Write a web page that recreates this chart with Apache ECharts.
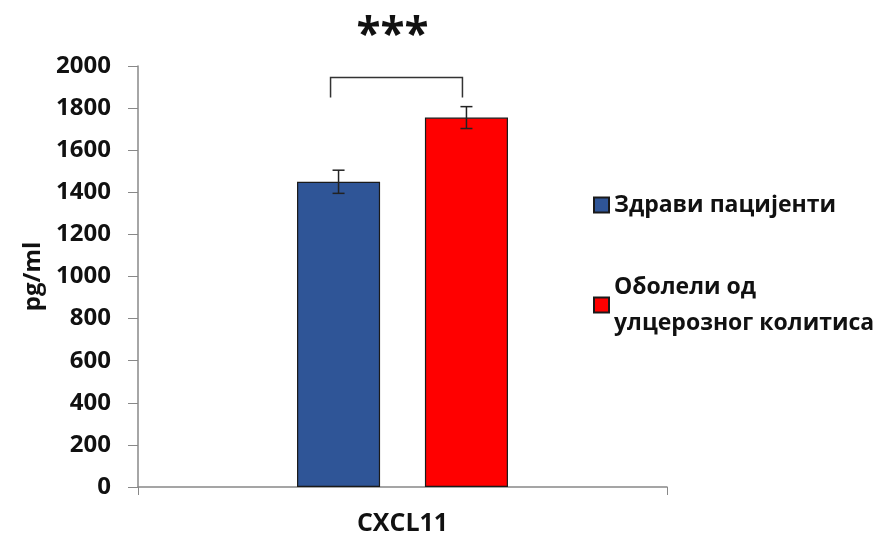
<!DOCTYPE html>
<html lang="sr">
<head>
<meta charset="UTF-8">
<script src="https://cdn.jsdelivr.net/npm/echarts@6/dist/echarts.min.js"></script>
<title>CXCL11</title>
<style>body{margin:0;background:#fff;}</style>
</head>
<body>
<div id="main" style="width:892px;height:540px;"></div>
<script type="text/javascript">
// data
var categories = ['CXCL11'];
var seriesNames = ['Здрави пацијенти', 'Оболели од\nулцерозног колитиса'];
var means = [1450, 1755];
var errors = [55, 52];
var yTicks = [0, 2000, 200]; // min, max, interval
var bracketTop = 1945, bracketLeg = 1850, starsAt = 2140;
var starsText = '***';

var fontFam = '"Open Sans", "Noto Sans", sans-serif';
var colors = ['#2F5597', '#FF0000'];
var barW = 0.157, gapRatio = 0.54;

function offsetFor(idx, band) {
    var w = band * barW;
    return (idx - 0.5) * (w + w * gapRatio);
}

var myChart = echarts.init(document.getElementById('main'));

var errData = [];
for (var i = 0; i < means.length; i++) {
    errData.push([0, means[i] - errors[i], means[i] + errors[i], i]);
}

var option = {
    animation: false,
    textStyle: { fontFamily: fontFam },
    grid: { left: 138, right: 225, top: 66, bottom: 53 },
    legend: {
        orient: 'vertical',
        left: 588,
        top: 182,
        itemWidth: 15,
        itemHeight: 15,
        itemGap: 46,
        icon: 'rect',
        textStyle: { fontSize: 23, fontWeight: 'bold', color: '#111', lineHeight: 36, fontFamily: fontFam },
        data: seriesNames
    },
    xAxis: {
        type: 'category',
        data: categories,
        axisLine: { lineStyle: { color: '#888', width: 1.5 } },
        axisTick: { show: true, length: 8, lineStyle: { color: '#888' } },
        axisLabel: { margin: 24, fontSize: 25, fontWeight: 'bold', color: '#111' }
    },
    yAxis: {
        type: 'value',
        min: yTicks[0], max: yTicks[1], interval: yTicks[2],
        name: 'pg/ml',
        nameLocation: 'middle',
        nameGap: 86,
        nameTextStyle: { fontSize: 24, fontWeight: 'bold', color: '#111' },
        splitLine: { show: false },
        axisLine: { show: true, lineStyle: { color: '#888', width: 1.5 } },
        axisTick: { show: true, length: 10, lineStyle: { color: '#888' } },
        axisLabel: {
            margin: 27, fontSize: 24, fontWeight: 'bold', color: '#111',
            formatter: function (v) { return String(v); }
        }
    },
    series: [
        {
            name: seriesNames[0], type: 'bar', data: [means[0]],
            barWidth: (barW * 100) + '%', barGap: (gapRatio * 100) + '%',
            itemStyle: { color: colors[0], borderColor: '#1a1a1a', borderWidth: 1.2 }
        },
        {
            name: seriesNames[1], type: 'bar', data: [means[1]],
            barWidth: (barW * 100) + '%', barGap: (gapRatio * 100) + '%',
            itemStyle: { color: colors[1], borderColor: '#1a1a1a', borderWidth: 1.2 }
        },
        {
            type: 'custom',
            data: errData,
            z: 10,
            renderItem: function (params, api) {
                var band = api.size([1, 0])[0];
                var dx = offsetFor(api.value(3), band);
                var lo = api.coord([api.value(0), api.value(1)]);
                var hi = api.coord([api.value(0), api.value(2)]);
                var x = lo[0] + dx, cap = 6;
                var st = { stroke: '#222', lineWidth: 1.5 };
                return {
                    type: 'group',
                    children: [
                        { type: 'line', shape: { x1: x, y1: lo[1], x2: x, y2: hi[1] }, style: st },
                        { type: 'line', shape: { x1: x - cap, y1: lo[1], x2: x + cap, y2: lo[1] }, style: st },
                        { type: 'line', shape: { x1: x - cap, y1: hi[1], x2: x + cap, y2: hi[1] }, style: st }
                    ]
                };
            }
        },
        {
            type: 'custom',
            data: [[0, bracketTop, bracketLeg, starsAt]],
            z: 10,
            clip: false,
            renderItem: function (params, api) {
                var band = api.size([1, 0])[0];
                var top = api.coord([0, api.value(1)]);
                var leg = api.coord([0, api.value(2)]);
                var star = api.coord([0, api.value(3)]);
                var xl = top[0] + offsetFor(0, band) - 8;
                var xr = top[0] + offsetFor(1, band) - 4;
                return {
                    type: 'group',
                    children: [
                        {
                            type: 'polyline',
                            shape: { points: [[xl, leg[1]], [xl, top[1]], [xr, top[1]], [xr, leg[1]]] },
                            style: { stroke: '#333', lineWidth: 1.5, fill: null }
                        },
                        {
                            type: 'text',
                            style: {
                                text: starsText, x: (xl + xr) / 2 - 4, y: star[1],
                                align: 'center', verticalAlign: 'middle',
                                font: 'bold 44px ' + fontFam, fill: '#111'
                            }
                        }
                    ]
                };
            }
        }
    ]
};
myChart.setOption(option);
</script>
</body>
</html>
